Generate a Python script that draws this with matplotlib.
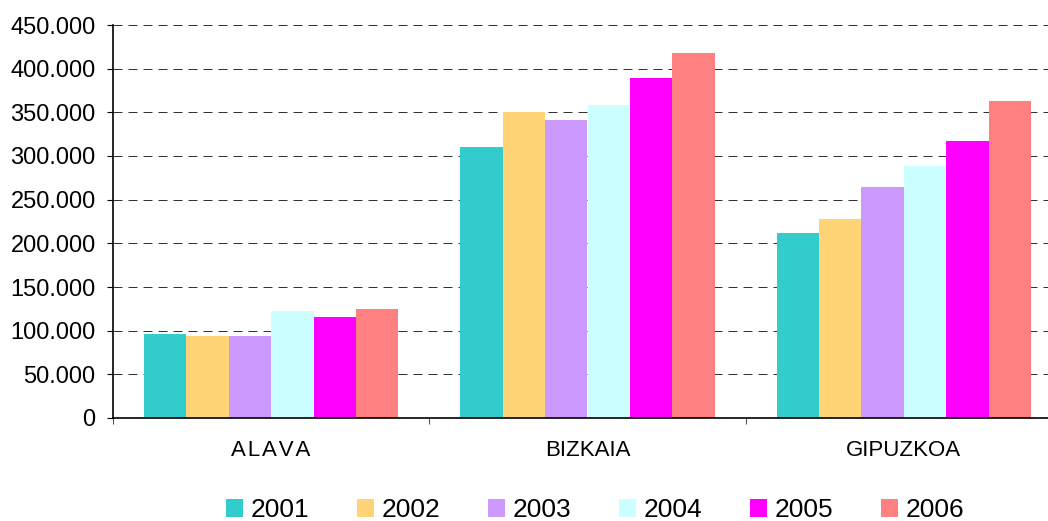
import matplotlib.pyplot as plt
import numpy as np
from matplotlib.ticker import FuncFormatter

plt.rcParams['font.family'] = ['Liberation Sans', 'DejaVu Sans']

# data
regions = ['ALAVA', 'BIZKAIA', 'GIPUZKOA']
years = ['2001', '2002', '2003', '2004', '2005', '2006']
v2001 = [96200, 310300, 211800]
v2002 = [93900, 350400, 227900]
v2003 = [93900, 341200, 264500]
v2004 = [122500, 358400, 288500]
v2005 = [115600, 389300, 317200]
v2006 = [124800, 418000, 363000]
series = [v2001, v2002, v2003, v2004, v2005, v2006]
colors = ['#33CCCC', '#FFD477', '#CC99FF', '#CCFFFF', '#FF00FF', '#FF8080']

fig = plt.figure(figsize=(10.48, 5.21), dpi=100)
ax = fig.add_axes([113 / 1048, 103 / 521, 949 / 1048, 393 / 521])

x = np.arange(len(regions))
w = 0.134
for i, (vals, c) in enumerate(zip(series, colors)):
    ax.bar(x + (i - 2.5) * w, vals, w, color=c, label=years[i], zorder=2)

ax.set_xlim(-0.5, 2.5)
ax.set_ylim(0, 450000)
ax.set_yticks(np.arange(0, 450001, 50000))
ax.yaxis.set_major_formatter(FuncFormatter(lambda v, p: f'{int(v):,}'.replace(',', '.')))
ax.grid(axis='y', color='#333333', linestyle=(0, (9, 6)), linewidth=0.72, zorder=0)

# category boundaries as major ticks, names on minor ticks
ax.set_xticks([-0.5, 0.5, 1.5, 2.5])
ax.set_xticklabels([])
ax.set_xticks(x, minor=True)
ax.set_xticklabels(['A\u200aL\u200aA\u200aV\u200aA', 'BIZKAIA', 'GIPUZKOA'], minor=True, fontsize=16)
ax.tick_params(axis='x', which='minor', length=0, pad=16)
ax.tick_params(axis='x', which='major', length=4.5, width=0.8, color='#555555')
ax.tick_params(axis='y', length=4.5, width=0.8, pad=8, labelsize=17)

for s in ['top', 'right']:
    ax.spines[s].set_visible(False)
ax.spines['left'].set_linewidth(1.2)
ax.spines['bottom'].set_linewidth(1.2)

fig.legend(loc='center', bbox_to_anchor=(0.568, 0.021), ncol=6, frameon=False,
           fontsize=19, handlelength=0.64, handleheight=0.64, handletextpad=0.28,
           columnspacing=1.82)

fig.savefig('out.png', dpi=100)
